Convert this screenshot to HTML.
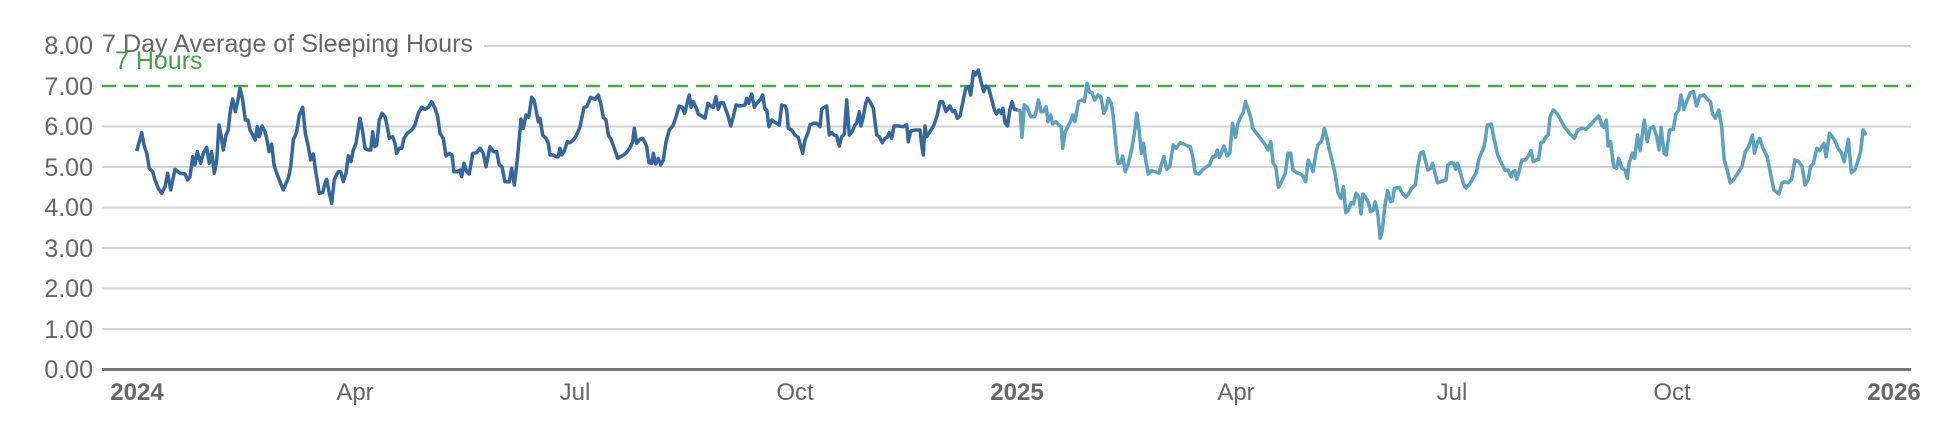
<!DOCTYPE html>
<html><head><meta charset="utf-8"><style>
html,body{margin:0;padding:0;background:#fff;width:1960px;height:448px;overflow:hidden}
svg text{font-family:"Liberation Sans",sans-serif}
</style></head><body>
<svg id="c" width="1960" height="448" xmlns="http://www.w3.org/2000/svg">
<g stroke="#d4d4d4" stroke-width="2">
<line x1="102" x2="1911" y1="46" y2="46"/>
<line x1="102" x2="1911" y1="126.5" y2="126.5"/>
<line x1="102" x2="1911" y1="167" y2="167"/>
<line x1="102" x2="1911" y1="207.5" y2="207.5"/>
<line x1="102" x2="1911" y1="248" y2="248"/>
<line x1="102" x2="1911" y1="288.5" y2="288.5"/>
<line x1="102" x2="1911" y1="329" y2="329"/>
</g>
<rect x="100" y="28" width="384" height="30" fill="#fff"/>
<text x="102" y="52" font-size="25" fill="#666" textLength="371" lengthAdjust="spacingAndGlyphs">7 Day Average of Sleeping Hours</text>
<line x1="102" x2="1911" y1="86" y2="86" stroke="#4aa84a" stroke-width="2.5" stroke-dasharray="14,8"/>
<text x="115" y="69" font-size="25" fill="#43a047">7 Hours</text>
<g font-size="25" fill="#666" text-anchor="end">
<text x="93" y="54">8.00</text>
<text x="93" y="95">7.00</text>
<text x="93" y="135">6.00</text>
<text x="93" y="176">5.00</text>
<text x="93" y="216">4.00</text>
<text x="93" y="257">3.00</text>
<text x="93" y="297">2.00</text>
<text x="93" y="338">1.00</text>
<text x="93" y="378">0.00</text>
</g>
<line x1="102" x2="1911" y1="369.5" y2="369.5" stroke="#777" stroke-width="3"/>
<g font-size="24" fill="#666" text-anchor="middle">
<text x="137" y="400" font-weight="bold">2024</text>
<text x="355" y="400">Apr</text>
<text x="575" y="400">Jul</text>
<text x="795" y="400">Oct</text>
<text x="1017" y="400" font-weight="bold">2025</text>
<text x="1236" y="400">Apr</text>
<text x="1452" y="400">Jul</text>
<text x="1672" y="400">Oct</text>
<text x="1894" y="400" font-weight="bold">2026</text>
</g>
<polyline id="d" fill="none" stroke="#3566a0" stroke-width="3.5" stroke-linejoin="round"/>
<polyline id="l" fill="none" stroke="#5ca2bf" stroke-width="3.5" stroke-linejoin="round"/>
</svg>
<script>
var z1=[410,393,425,338,432,375,440,400,448,445,458,455,465,480,475,505,485,520,495,500,503,460,512,510,525,448,540,460,555,462,563,480,570,470,578,410,585,435,592,395,602,430,610,400,620,382,628,430,635,395,643,460,650,420,657,315,663,345,670,390,678,345,685,330,690,280,698,237,706,275,712,250,720,205,728,240,736,300,744,300,750,330,758,345,766,360,772,320,778,350,786,318,795,335,800,355,807,395,815,372,822,435,830,460,840,485,850,510,858,490,866,470,872,440,880,360,890,335,898,285,908,262,916,340,925,380,932,420,940,402,948,460,958,520,968,518,975,490,980,478,987,515,995,550,1003,478,1015,455,1022,455,1030,485,1038,460,1045,407,1053,425,1060,390,1068,370,1080,295,1088,335,1095,385,1104,390,1112,390,1118,335,1124,380,1130,375,1138,300,1146,280,1155,290,1162,320,1168,355,1178,350,1185,370,1190,400,1198,385,1205,385,1212,355,1222,340,1235,330,1245,315,1255,280,1265,262,1275,268,1285,262,1295,245,1305,265,1313,290,1320,340,1330,355,1338,408,1348,400,1356,405,1362,455,1372,455,1380,450,1385,470,1392,430,1400,455,1408,462,1418,400,1430,398];
var z2=[0,385,10,400,18,440,30,380,40,395,50,395,58,435,66,440,75,485,88,485,95,445,103,495,112,420,123,297,130,325,138,285,146,292,155,232,162,240,168,270,175,305,180,295,188,345,198,355,205,370,210,405,220,405,228,410,235,410,240,385,245,405,252,395,262,365,270,368,280,360,290,345,300,320,312,262,320,260,332,232,345,238,355,225,362,250,370,292,378,300,385,345,393,358,403,385,413,415,425,408,438,400,450,383,458,365,463,325,470,370,480,358,488,355,495,368,500,380,507,428,515,430,520,400,527,432,535,415,542,435,550,420,558,365,568,330,580,315,588,290,598,258,607,262,614,280,620,255,628,225,633,262,640,245,648,262,655,282,668,290,675,295,684,250,692,258,700,262,708,230,715,268,722,248,730,248,738,270,745,290,752,318,760,290,768,255,780,258,795,255,800,235,806,250,815,222,823,262,832,248,840,240,848,225,855,268,860,270,867,320,875,300,882,305,890,310,898,315,905,255,915,258,920,270,925,325,935,330,945,345,955,352,962,378,968,400,975,360,985,335,990,315,1000,310,1010,310,1020,320,1025,268,1033,262,1040,258,1048,345,1055,338,1062,345,1070,348,1078,378,1085,350,1093,343,1100,240,1108,345,1116,335,1125,315,1130,310,1138,275,1143,318,1150,290,1157,250,1163,235,1170,245,1180,265,1190,345,1198,350,1207,368,1215,355,1222,352,1228,338,1235,355,1242,318,1255,318,1270,320,1280,315,1285,365,1292,333,1305,330,1320,330,1325,375,1330,405,1335,318,1340,350,1350,335,1362,315,1372,285,1380,245,1388,245,1398,275,1405,265,1410,258,1418,275,1425,272,1432,295,1440,288];
var z3d=[15,205,22,200,28,225,35,155,40,165,48,150,55,185,62,215,68,198,75,205,82,235,90,270,95,282,102,270,108,280,112,265,118,310,124,318,130,270,136,245,142,268,150,270];
var z3l=[150,270,157,272,162,352,168,255,175,262,185,290,195,290,200,270,205,240,212,275,218,275,225,260,230,305,237,285,242,312,250,305,258,315,265,320,268,385,275,335,282,320,290,300,295,285,300,305,310,245,318,240,325,245,332,190,338,215,345,218,352,240,360,225,368,230,376,280,382,265,388,235,395,250,400,285,408,380,413,430,420,428,425,408,432,455,440,430,450,380,457,330,462,280,468,330,474,400,480,370,485,420,492,462,500,452,510,455,520,460,527,430,533,410,540,448,548,440,557,375,565,385,575,368,585,372,595,378,602,380,608,410,615,460,625,462,635,448,645,440,652,435,660,410,667,410,672,390,678,412,685,392,690,378,698,408,705,400,712,310,720,352,725,315,733,292,740,278,746,245,752,265,760,295,765,325,775,340,785,355,795,370,805,390,812,365,818,430,825,440,832,502,840,485,850,460,857,400,864,400,870,450,880,458,890,462,897,470,903,485,910,420,916,435,922,455,930,400,935,375,945,362,952,325,958,350,965,390,972,420,980,460,988,520,995,535,1002,500,1008,578,1015,570,1022,548,1028,552,1035,520,1042,530,1048,582,1053,522,1060,532,1068,550,1073,575,1080,570,1085,545,1092,585,1098,655,1103,635,1110,560,1117,512,1125,545,1130,542,1135,505,1148,502,1155,518,1165,532,1172,522,1180,505,1190,495,1196,440,1203,400,1210,395,1217,425,1222,450,1230,445,1235,430,1240,455,1248,488,1258,485,1270,480,1275,435,1283,428,1290,430,1295,448,1300,430,1308,460,1315,490,1322,505,1330,495,1338,480,1350,455,1355,420,1362,400,1370,378,1378,315,1388,312,1395,355,1405,405,1415,430,1425,452,1432,450,1440,470,1445,455,1450,452,1455,478,1462,450,1468,420,1478,420,1485,408,1492,392,1498,425,1505,420,1512,418,1518,368,1525,365,1530,352,1537,345,1542,290,1550,270,1560,280];
var z5=[628,320,640,340,652,355,660,330,670,325,680,328,692,312,700,300,710,288,718,318,722,322,728,300,732,378,738,365,745,440,752,445,757,415,765,445,772,450,778,475,782,430,790,400,795,415,802,345,808,392,818,300,825,365,832,325,840,320,848,352,853,390,858,322,865,400,870,405,878,330,887,328,893,282,900,270,905,225,912,268,920,240,928,218,935,215,942,258,950,228,960,225,968,238,975,245,980,282,987,295,995,270,1002,320,1008,420,1015,450,1022,488,1030,480,1040,460,1050,440,1058,395,1066,380,1075,345,1080,400,1085,375,1092,355,1100,385,1110,410,1118,460,1126,510,1138,522,1145,490,1150,485,1160,488,1168,478,1176,420,1185,425,1193,440,1200,495,1208,478,1213,440,1220,430,1228,385,1235,392,1240,380,1245,370,1250,410,1258,340,1265,350,1272,365,1278,385,1285,395,1293,425,1303,358,1310,458,1318,450,1325,425,1332,395,1338,330,1345,345];
function conv(a,ox,sx,out){for(var i=0;i<a.length;i+=2){out.push((ox+a[i]/sx).toFixed(1)+","+(20+a[i+1]/3).toFixed(1));}}
var d=[],l=[];
conv(z1,0,3,d);conv(z2,480,3,d);conv(z3d,960,2.613,d);
conv(z3l,960,2.613,l);conv(z5,1300,2.376,l);
document.getElementById("d").setAttribute("points",d.join(" "));
document.getElementById("l").setAttribute("points",l.join(" "));
</script>
</body></html>
